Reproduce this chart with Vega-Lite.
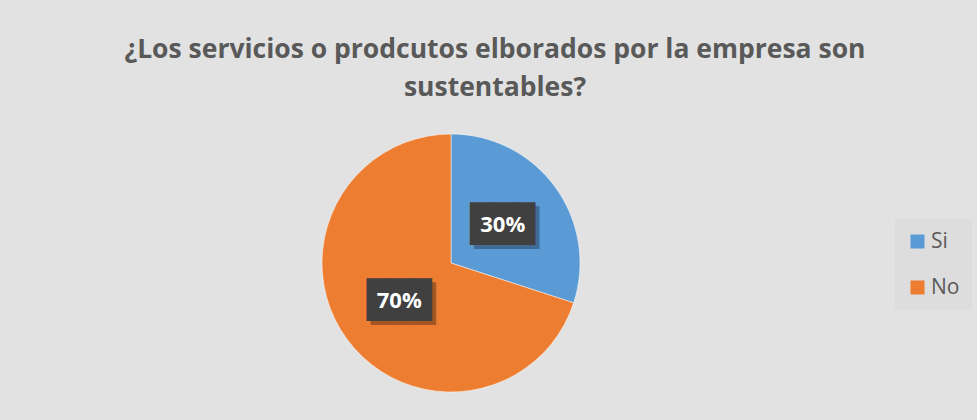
{
  "$schema": "https://vega.github.io/schema/vega-lite/v6.json",
  "autosize": {"type": "none"},
  "width": 902,
  "height": 314,
  "padding": {"top": 106, "left": 0, "right": 75, "bottom": 0},
  "background": "#e2e2e2",
  "title": {
    "text": ["¿Los servicios o prodcutos elborados por la empresa son", "sustentables?"],
    "font": "Open Sans",
    "fontSize": 26.5,
    "fontWeight": "bold",
    "color": "#595959",
    "anchor": "middle",
    "frame": "group",
    "dx": 44,
    "offset": 5,
    "lineHeight": 38
  },
  "data": {
    "values": [
      {"respuesta": "Si", "valor": 0.30, "orden": 1},
      {"respuesta": "No", "valor": 0.70, "orden": 2}
    ]
  },
  "encoding": {
    "theta": {"field": "valor", "type": "quantitative", "stack": true},
    "order": {"field": "orden", "type": "quantitative"}
  },
  "layer": [
    {
      "mark": {"type": "arc", "outerRadius": 129, "stroke": "#ffffff", "strokeWidth": 0.5},
      "encoding": {
        "color": {
          "field": "respuesta",
          "type": "nominal",
          "scale": {"domain": ["Si", "No"], "range": ["#5B9BD5", "#ED7D31"]},
          "legend": {
            "title": null,
            "orient": "none",
            "legendX": 895,
            "legendY": 113,
            "symbolType": "square",
            "symbolSize": 196,
            "symbolStrokeWidth": 0,
            "labelFont": "Open Sans",
            "labelFontSize": 21,
            "labelColor": "#595959",
            "labelOffset": 3,
            "rowPadding": 24,
            "padding": 12,
            "fillColor": "#dddddd"
          }
        }
      }
    },
    {
      "mark": {"type": "text", "radius": 64, "text": "███", "font": "DejaVu Sans Mono", "fontSize": 36, "baseline": "middle", "color": "#000000", "opacity": 0.3, "dx": 4, "dy": 4}
    },
    {
      "mark": {"type": "text", "radius": 64, "text": "███", "font": "DejaVu Sans Mono", "fontSize": 36, "baseline": "middle", "color": "#404040"}
    },
    {
      "mark": {"type": "text", "radius": 64, "font": "Open Sans", "fontSize": 22, "fontWeight": "bold", "baseline": "middle", "color": "#ffffff"},
      "encoding": {
        "text": {"field": "valor", "type": "quantitative", "format": ".0%"}
      }
    }
  ]
}
